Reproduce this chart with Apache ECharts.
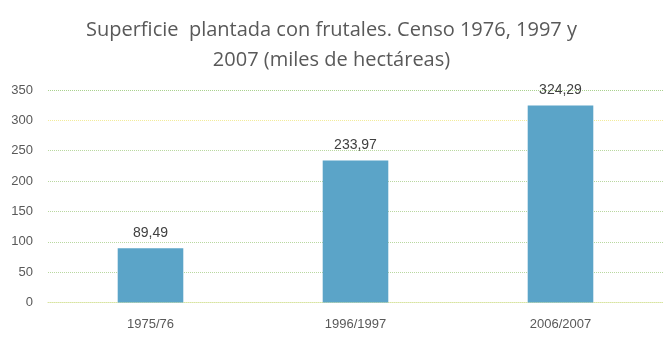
<!DOCTYPE html>
<html>
<head>
<meta charset="utf-8">
<script src="https://cdn.jsdelivr.net/npm/echarts@6/dist/echarts.min.js"></script>
<style>
html, body { margin: 0; padding: 0; background: #fff; }
#chart { width: 663px; height: 342px; }
</style>
</head>
<body>
<div id="chart"></div>
<script>
var categories = ['1975/76', '1996/1997', '2006/2007'];
var values = [89.49, 233.97, 324.29];
var titleLines = ['Superficie  plantada con frutales. Censo 1976, 1997 y', '2007 (miles de hectáreas)'];

var chart = echarts.init(document.getElementById('chart'));
var option = {
    backgroundColor: '#fff',
    title: {
        text: titleLines.join('\n'),
        left: 'center',
        top: 10,
        textStyle: {
            fontFamily: 'Open Sans',
            fontWeight: 'normal',
            fontSize: 20,
            color: '#595959',
            lineHeight: 30
        }
    },
    grid: {
        left: 48,
        right: 0,
        top: 90,
        bottom: 39.5
    },
    xAxis: {
        type: 'category',
        data: categories,
        axisTick: { show: false },
        axisLine: { show: true, lineStyle: { color: '#d8e4a0', type: 'dotted' } },
        axisLabel: {
            color: '#595959',
            fontFamily: 'Liberation Sans',
            fontSize: 13,
            margin: 15
        }
    },
    yAxis: {
        type: 'value',
        min: 0,
        max: 350,
        interval: 50,
        axisLine: { show: false },
        axisTick: { show: false },
        axisLabel: {
            color: '#595959',
            fontFamily: 'Liberation Sans',
            fontSize: 13,
            margin: 15
        },
        splitLine: {
            lineStyle: {
                color: ['#d8e4a0', '#b9d8a0', '#b9d8a0', '#b9d8a0', '#b9d8a0', '#b9d8a0', '#f2eb9a', '#a9d18e'],
                type: 'dotted'
            }
        }
    },
    series: [{
        type: 'bar',
        data: values,
        barWidth: '32%',
        itemStyle: { color: '#5ba4c8' },
        label: {
            show: true,
            position: 'top',
            distance: 8,
            color: '#404040',
            fontFamily: 'Liberation Sans',
            fontSize: 14,
            formatter: function (p) {
                return p.value.toFixed(2).replace('.', ',');
            }
        }
    }]
};
chart.setOption(option);
</script>
</body>
</html>
